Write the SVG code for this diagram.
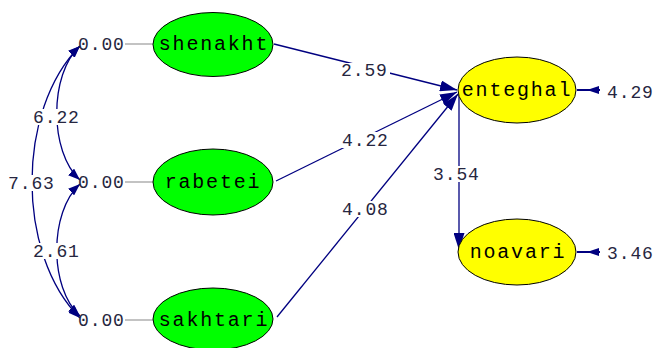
<svg xmlns="http://www.w3.org/2000/svg" width="654" height="348" viewBox="0 0 654 348">
<style>
.num{font-family:"Liberation Mono","Courier New",monospace;font-size:18px;letter-spacing:0.9px;fill:#262640}
.lbl{font-family:"Liberation Mono","Courier New",monospace;font-size:20px;letter-spacing:1.8px;fill:#000;text-anchor:middle}
.green{fill:#00ff00;stroke:#000;stroke-width:1}
.yellow{fill:#ffff00;stroke:#000;stroke-width:1}
.path{fill:none;stroke:#000080;stroke-width:1.3}
.err{stroke:#000080;stroke-width:2}
.cov{fill:none;stroke:#000080;stroke-width:1.3;marker-start:url(#ca);marker-end:url(#ca)}
.stub{stroke:#b4b4b4;stroke-width:1.6}
.bg{fill:#fff}
</style>
<defs>
<marker id="ah" viewBox="0 0 17 11" refX="17" refY="5.5" markerWidth="17" markerHeight="11" markerUnits="userSpaceOnUse" orient="auto">
<path d="M0,0 L17,5.5 L0,11 z" fill="#000080"/>
</marker>
<marker id="ca" viewBox="0 0 12 9" refX="12" refY="4.5" markerWidth="12" markerHeight="9" markerUnits="userSpaceOnUse" orient="auto-start-reverse">
<path d="M0,0 L12,4.5 L0,9 z" fill="#000080"/>
</marker>
</defs>
<rect width="654" height="348" fill="#fff"/>
<g id="connectors">
<line class="path" x1="274" y1="44" x2="457" y2="90" marker-end="url(#ah)"/>
<line class="path" x1="276" y1="181" x2="457" y2="92" marker-end="url(#ah)"/>
<line class="path" x1="277" y1="317" x2="458" y2="94" marker-end="url(#ah)"/>
<line class="path" x1="459" y1="92" x2="459" y2="250" marker-end="url(#ah)"/>
<path class="cov" d="M80,46 C49,74 49,152 80,180"/>
<path class="cov" d="M80,46 C16,110 16,254 80,318"/>
<path class="cov" d="M80,184 C49,212 49,288 80,316"/>
<line class="stub" x1="125" y1="44" x2="153" y2="44"/>
<line class="stub" x1="125" y1="182" x2="153" y2="182"/>
<line class="stub" x1="125" y1="320" x2="153" y2="320"/>
<line class="err" x1="577" y1="90" x2="600" y2="90"/>
<polygon points="587,90 599,86 599,94" fill="#000080"/>
<line class="err" x1="577" y1="252" x2="600" y2="252"/>
<polygon points="587,252 599,248 599,256" fill="#000080"/>
</g>
<g id="labels">
<rect class="bg" x="339" y="63" width="51" height="16"/>
<text class="num" x="341" y="76">2.59</text>
<rect class="bg" x="340" y="132" width="51" height="16"/>
<text class="num" x="342" y="145.5">4.22</text>
<rect class="bg" x="340" y="201" width="51" height="16"/>
<text class="num" x="342" y="214.5">4.08</text>
<rect class="bg" x="431" y="166" width="51" height="16"/>
<text class="num" x="433" y="179.5">3.54</text>
<rect class="bg" x="31" y="109" width="51" height="16"/>
<text class="num" x="33" y="122.5">6.22</text>
<rect class="bg" x="6" y="175" width="51" height="16"/>
<text class="num" x="8" y="188.5">7.63</text>
<rect class="bg" x="31" y="243" width="51" height="16"/>
<text class="num" x="33" y="256.5">2.61</text>
<text class="num" x="78" y="49.5">0.00</text>
<text class="num" x="78" y="187.5">0.00</text>
<text class="num" x="78" y="325.5">0.00</text>
<text class="num" x="607" y="97.5">4.29</text>
<text class="num" x="607" y="258.5">3.46</text>
</g>
<g id="shenakht">
<ellipse class="green" cx="213" cy="44.5" rx="60" ry="32"/>
<text class="lbl" x="214" y="50">shenakht</text>
</g>
<g id="rabetei">
<ellipse class="green" cx="213" cy="182" rx="60" ry="33"/>
<text class="lbl" x="213" y="187.5">rabetei</text>
</g>
<g id="sakhtari">
<ellipse class="green" cx="213" cy="319" rx="60" ry="31"/>
<text class="lbl" x="214" y="325.5">sakhtari</text>
</g>
<g id="enteghal">
<ellipse class="yellow" cx="517" cy="90" rx="59" ry="33"/>
<text class="lbl" x="517" y="95.5">enteghal</text>
</g>
<g id="noavari">
<ellipse class="yellow" cx="517" cy="252" rx="59" ry="33"/>
<text class="lbl" x="518" y="257.5">noavari</text>
</g>
</svg>
